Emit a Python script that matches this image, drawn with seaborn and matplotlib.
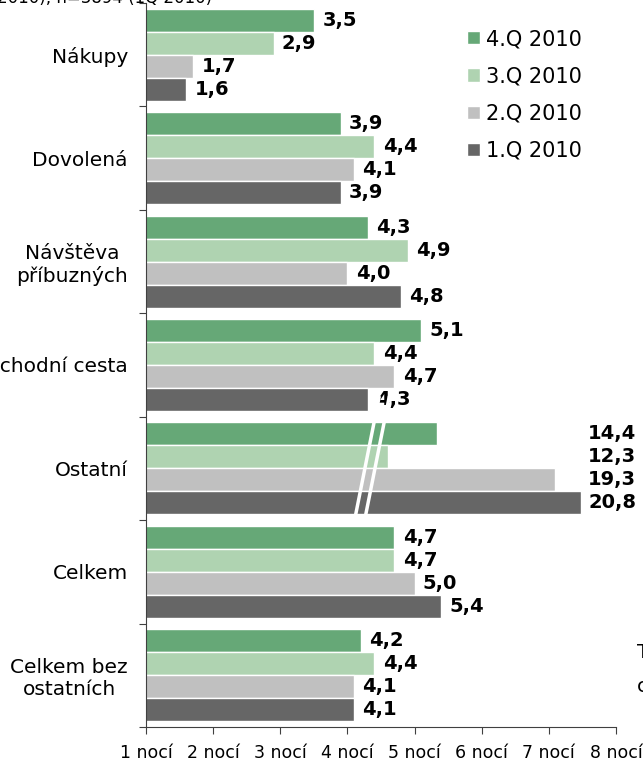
import numpy as np
import pandas as pd
import seaborn as sns
import matplotlib.pyplot as plt
from matplotlib.transforms import blended_transform_factory

categories = ["Nákupy", "Dovolená", "Návštěva\npříbuzných", "Obchodní cesta",
              "Ostatní", "Celkem", "Celkem bez\nostatních"]
quarters = ["4.Q 2010", "3.Q 2010", "2.Q 2010", "1.Q 2010"]
q4 = [3.5, 3.9, 4.3, 5.1, 14.4, 4.7, 4.2]
q3 = [2.9, 4.4, 4.9, 4.4, 12.3, 4.7, 4.4]
q2 = [1.7, 4.1, 4.0, 4.7, 19.3, 5.0, 4.1]
q1 = [1.6, 3.9, 4.8, 4.3, 20.8, 5.4, 4.1]
# "Ostatni" bars are cut by an axis break, these are the lengths shown
ostatni_shown = [5.33, 4.6, 7.09, 7.48]
colors = ["#66a877", "#afd3b1", "#c0c0c0", "#666666"]
nights = [1, 2, 3, 4, 5, 6, 7, 8]

rows = []
for qi, (q, vals) in enumerate(zip(quarters, [q4, q3, q2, q1])):
    for cat, v in zip(categories, vals):
        shown = ostatni_shown[qi] if cat == "Ostatní" else v
        rows.append([cat, q, v, shown])
df = pd.DataFrame(rows, columns=["category", "quarter", "value", "shown"])

sns.set_style("ticks")
plt.rcParams["font.family"] = ["DejaVu Sans"]
plt.rcParams["text.color"] = "black"
plt.rcParams["xtick.color"] = "#404040"
plt.rcParams["ytick.color"] = "#404040"
plt.rcParams["xtick.labelcolor"] = "black"
plt.rcParams["ytick.labelcolor"] = "black"

fig = plt.figure(figsize=(6.43, 7.64), dpi=100)
ax = fig.add_axes([146 / 643, 1 - 727 / 764, 470 / 643, 724 / 764])

sns.barplot(data=df, y="category", x="shown", hue="quarter", order=categories,
            hue_order=quarters, palette=colors, saturation=1, width=0.89,
            edgecolor="white", linewidth=1, orient="h", ax=ax)

ax.set_xlim(1, 8)
ax.set_ylim(6.5, -0.5)
ax.set_xticks(nights)
ax.set_xticklabels([f"{n} nocí" for n in nights], fontsize=12.5)
ax.set_xlabel("")
ax.set_ylabel("")
ax.tick_params(axis="x", length=5, width=0.8, pad=7)
ax.tick_params(axis="y", which="major", length=0, pad=13, labelsize=14.5)
ax.set_yticks(np.arange(-0.5, 7, 1), minor=True)
ax.tick_params(axis="y", which="minor", length=5, width=0.8)
for lbl in ax.get_yticklabels():
    lbl.set_multialignment("center")
sns.despine(ax=ax)
for s in ["left", "bottom"]:
    ax.spines[s].set_color("#404040")
    ax.spines[s].set_linewidth(0.8)

# value labels
ost = categories.index("Ostatní")
trans = blended_transform_factory(fig.transFigure, ax.transData)
for cont, vals in zip(ax.containers, [q4, q3, q2, q1]):
    labels = ["" if i == ost else f"{v:.1f}".replace(".", ",") for i, v in enumerate(vals)]
    ax.bar_label(cont, labels=labels, padding=6, fontsize=14, fontweight="bold")
    p = cont.patches[ost]
    ax.text(636 / 643, p.get_y() + p.get_height() / 2, f"{vals[ost]:.1f}".replace(".", ","),
            transform=trans, ha="right", va="center", fontsize=14, fontweight="bold")

# axis break marks on the Ostatni bars
ys = np.array([ost - 0.7, ost + 0.5])
for x0 in [4.26, 4.41]:
    ax.plot(x0 - (ys - ost) * 0.307, ys, color="white", lw=2.5, zorder=5,
            solid_capstyle="butt", clip_on=False)

handles, labels = ax.get_legend_handles_labels()
ax.legend(handles, labels, loc="upper left", bbox_to_anchor=(467 / 643, 1 - 29 / 764),
          bbox_transform=fig.transFigure, frameon=False, fontsize=15,
          handlelength=0.6, handleheight=0.6, handletextpad=0.3,
          labelspacing=0.83, borderpad=0, borderaxespad=0)

fig.text(212 / 643, 1 - 3 / 764, "2010), n=3894 (1Q 2010)", ha="right",
         va="baseline", fontsize=12)
fig.text(637 / 643, 1 - 652 / 764, "T", ha="left", va="center", fontsize=14)
fig.text(637 / 643, 1 - 687 / 764, "c", ha="left", va="center", fontsize=14)

fig.savefig("out.png", dpi=100)
